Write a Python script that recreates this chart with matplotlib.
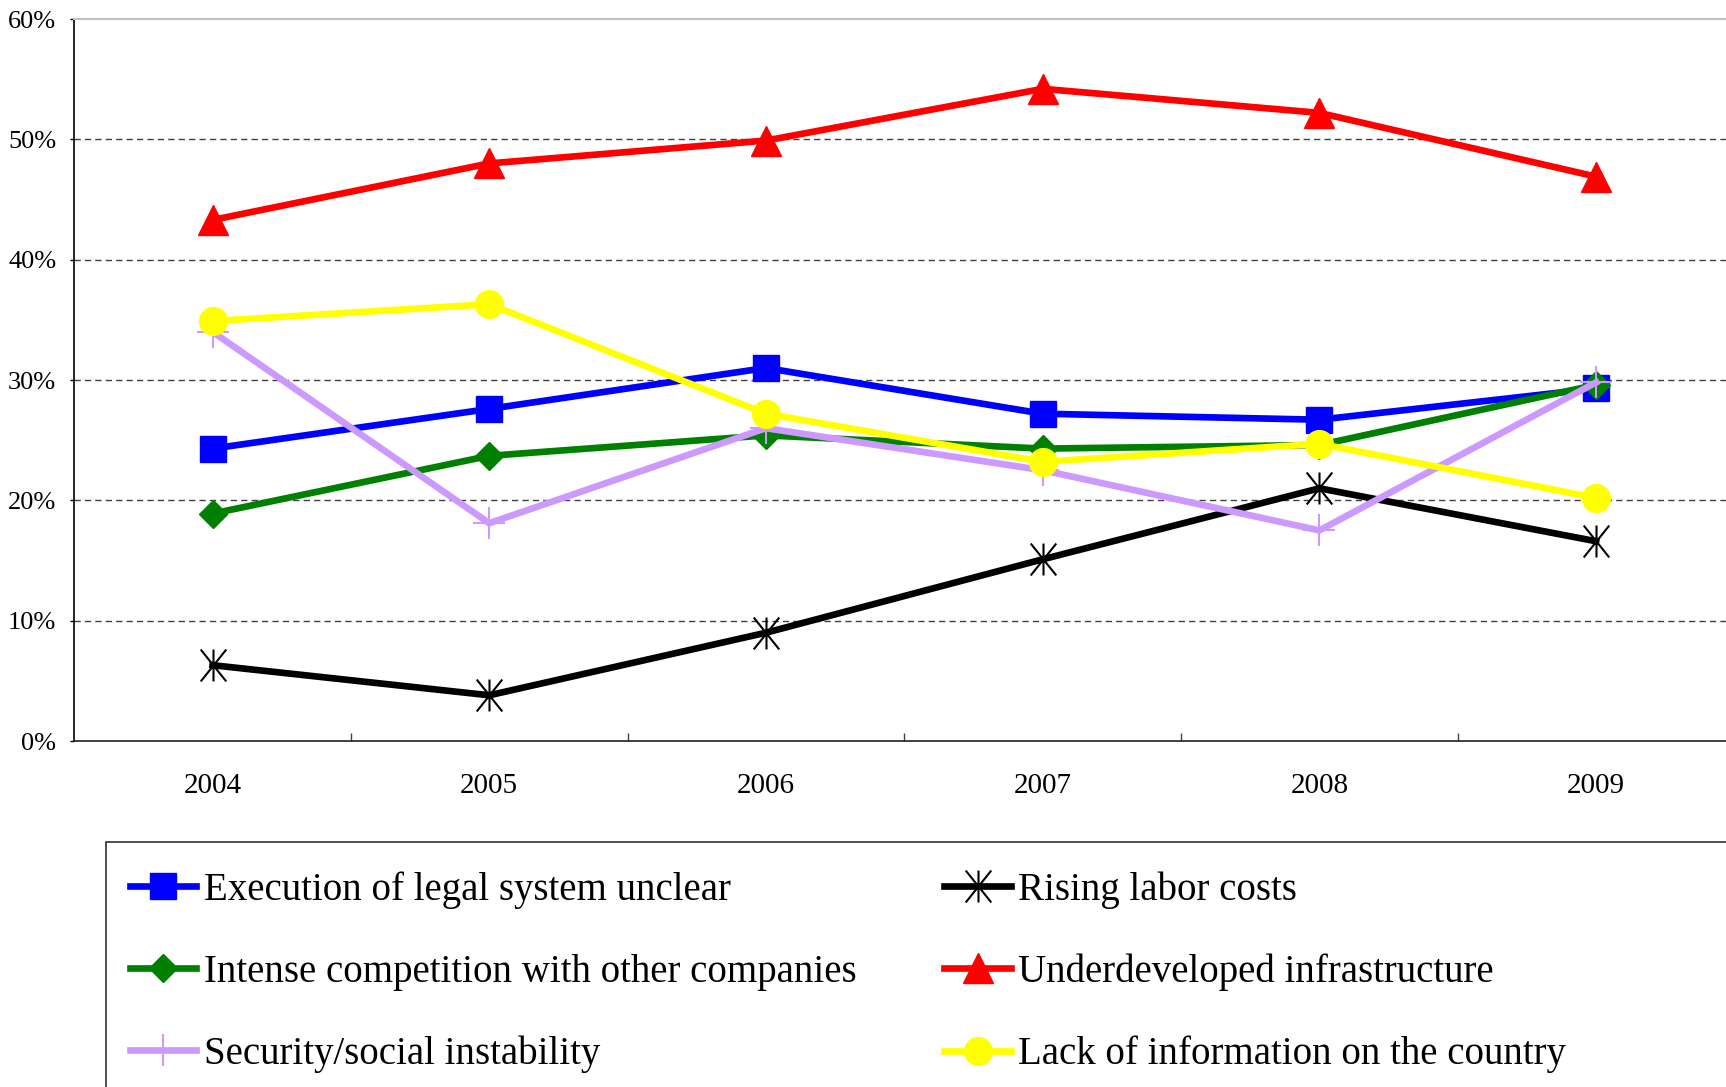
import matplotlib; matplotlib.use("Agg")
import matplotlib.pyplot as plt
import matplotlib.ticker as mticker
from matplotlib.patches import Rectangle
from matplotlib.path import Path

plt.rcParams["font.family"] = ["Liberation Serif", "DejaVu Serif"]

years = ["2004", "2005", "2006", "2007", "2008", "2009"]
legal = [24.3, 27.6, 31.0, 27.2, 26.7, 29.3]
labor = [6.3, 3.8, 9.0, 15.1, 21.0, 16.6]
competition = [18.9, 23.7, 25.4, 24.3, 24.6, 29.6]
infra = [43.3, 48.0, 49.9, 54.2, 52.2, 46.9]
security = [34.0, 18.1, 26.0, 22.5, 17.5, 29.8]
info = [34.9, 36.3, 27.2, 23.2, 24.7, 20.2]

# Excel-style asterisk: vertical stroke plus a steep X
star = Path([(0, -1), (0, 1), (-0.8, -1), (0.8, 1), (-0.8, 1), (0.8, -1)],
            [Path.MOVETO, Path.LINETO] * 3)

series = [
    ("Execution of legal system unclear", legal, "#0000FF", "s", 19, 1),
    ("Rising labor costs", labor, "#000000", star, 23, 1.5),
    ("Intense competition with other companies", competition, "#008000", "D", 14, 1),
    ("Underdeveloped infrastructure", infra, "#FF0000", "^", 21, 1),
    ("Security/social instability", security, "#CC99FF", "+", 23, 1.5),
    ("Lack of information on the country", info, "#FFFF00", "o", 20, 1),
]

fig = plt.figure(figsize=(17.26, 10.87), dpi=100)
ax = fig.add_axes([0.0430, 0.3183, 0.9619, 0.6642])

x = list(range(len(years)))
handles = []
for name, vals, col, mk, ms, mew in series:
    ln, = ax.plot(x, vals, color=col, lw=4.8, marker=mk, ms=ms, mfc=col, mec=col, mew=mew,
                  label=name, clip_on=False)
    handles.append(ln)

ax.set_xlim(-0.5, 5.5); ax.set_ylim(0, 60)
ax.set_xticks(x); ax.set_xticklabels(years, fontsize=21)
ax.set_xticks([i + 0.5 for i in range(5)], minor=True)
ax.tick_params(axis="x", which="major", length=0, pad=23)
ax.tick_params(axis="x", which="minor", direction="in", length=6, width=1, color="#404040")
ax.set_yticks(range(0, 61, 10))
ax.yaxis.set_major_formatter(mticker.FuncFormatter(lambda v, _: f"{v:.0f}%"))
ax.tick_params(axis="y", length=3, width=1, pad=10, labelsize=19)
for v in range(10, 60, 10):
    ax.axhline(v, color="#404040", lw=1, ls=(0, (4.5, 3)), zorder=0)
ax.spines["right"].set_visible(False)
ax.spines["top"].set_color("#C0C0C0"); ax.spines["top"].set_linewidth(1.5)
ax.spines["left"].set_color("#000000"); ax.spines["bottom"].set_color("#202020")
ax.spines["left"].set_linewidth(1.2); ax.spines["bottom"].set_linewidth(1.2)

# legend frame runs off the right and bottom edges
fig.add_artist(Rectangle((0.0612, -0.1), 1.0, 0.1 + 1 - 842 / 1087, transform=fig.transFigure,
                         fill=False, edgecolor="#303030", lw=1.2))

kw = dict(loc="center left", frameon=False, fontsize=28, handlelength=1.7, handletextpad=0.2,
          labelspacing=1.15, borderpad=0, borderaxespad=0)
lg1 = fig.legend(handles=[handles[0], handles[2], handles[4]], bbox_to_anchor=(0.0753, 0.1056), **kw)
lg2 = fig.legend(handles=[handles[1], handles[3], handles[5]], bbox_to_anchor=(0.5472, 0.1056), **kw)

fig.savefig("out.png", dpi=100)
